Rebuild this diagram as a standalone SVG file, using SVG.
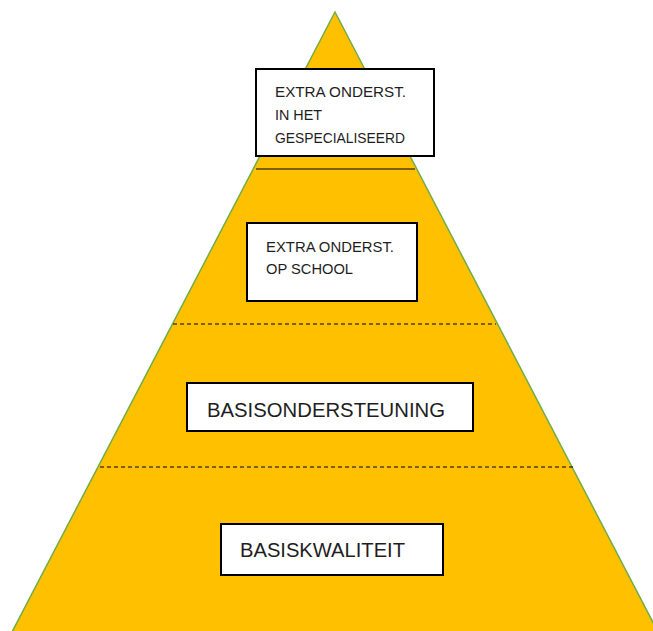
<svg xmlns="http://www.w3.org/2000/svg" width="653" height="631" viewBox="0 0 653 631">
<style>
.box{fill:#fff;stroke:#000;stroke-width:2}
.t{font-family:"Liberation Sans",Arial,sans-serif;fill:#1e1e1e}
.s{font-size:14.5px}
.l{font-size:20px}
.dash{stroke:#000;stroke-width:1;stroke-dasharray:4,3}
</style>
<rect width="653" height="631" fill="#fff"/>
<g id="pyramid">
<polygon points="335,12 12,632 658,632" fill="#FFC000" stroke="#70AD47" stroke-width="1.5"/>
</g>
<g id="connectors">
<line x1="256" y1="169" x2="415" y2="169" stroke="#000" stroke-width="1"/>
<line class="dash" x1="173" y1="324" x2="496" y2="324"/>
<line class="dash" x1="100" y1="467" x2="573" y2="467"/>
</g>
<g id="node-gespecialiseerd">
<rect class="box" x="256" y="69" width="178" height="87"/>
<text class="t s" x="275" y="97" textLength="131" lengthAdjust="spacingAndGlyphs">EXTRA ONDERST.</text>
<text class="t s" x="275" y="120" textLength="47" lengthAdjust="spacingAndGlyphs">IN HET</text>
<text class="t s" x="275" y="143" textLength="130" lengthAdjust="spacingAndGlyphs">GESPECIALISEERD</text>
</g>
<g id="node-school">
<rect class="box" x="247" y="223" width="170" height="78"/>
<text class="t s" x="266" y="252" textLength="128" lengthAdjust="spacingAndGlyphs">EXTRA ONDERST.</text>
<text class="t s" x="266" y="274" textLength="87" lengthAdjust="spacingAndGlyphs">OP SCHOOL</text>
</g>
<g id="node-basisondersteuning">
<rect class="box" x="187" y="383" width="286" height="48"/>
<text class="t l" x="207" y="417" textLength="238" lengthAdjust="spacingAndGlyphs">BASISONDERSTEUNING</text>
</g>
<g id="node-basiskwaliteit">
<rect class="box" x="221" y="524" width="222" height="51"/>
<text class="t l" x="240" y="557" textLength="165" lengthAdjust="spacingAndGlyphs">BASISKWALITEIT</text>
</g>
</svg>
